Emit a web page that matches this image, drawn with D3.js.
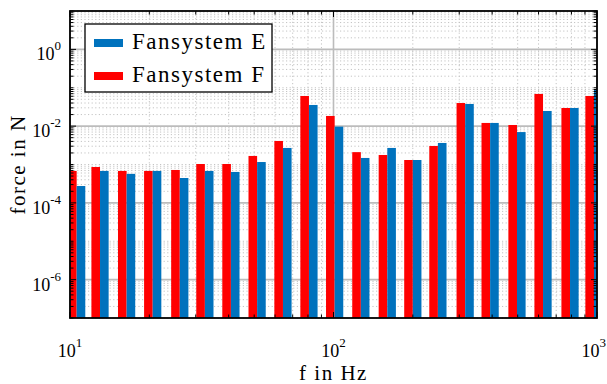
<!DOCTYPE html>
<html>
<head>
<meta charset="utf-8">
<script src="https://cdn.jsdelivr.net/npm/d3@7"></script>
<style>
    body { margin: 0; background: #fff; }
    svg text { font-family: "Liberation Serif", "Times New Roman", serif; fill: #000; }
</style>
</head>
<body>
<div id="chart"></div>
<script>
// band centres as they sit on the axis (Hz)
var bandHz = [10.6, 13.0, 16.4, 20.6, 26.1, 32.5, 40.8, 51.3, 64.3, 80.7, 101,
    127, 160, 200, 249, 316, 393, 497, 624, 790, 974];
// force in N per band
var forceF = [6.8e-4, 8.6e-4, 6.8e-4, 6.8e-4, 7.2e-4, 1.03e-3, 1.03e-3, 1.67e-3, 4.1e-3, 6.1e-2, 1.84e-2,
    2.1e-3, 1.77e-3, 1.31e-3, 3.04e-3, 4.0e-2, 1.21e-2, 1.07e-2, 6.9e-2, 2.97e-2, 6.1e-2];
var forceE = [2.75e-4, 6.8e-4, 5.7e-4, 6.8e-4, 4.45e-4, 6.8e-4, 6.4e-4, 1.16e-3, 2.7e-3, 3.56e-2, 9.7e-3,
    1.48e-3, 2.7e-3, 1.31e-3, 3.64e-3, 3.78e-2, 1.21e-2, 7.0e-3, 2.48e-2, 2.97e-2, 8.75e-2];
var seriesNames = ["Fansystem E", "Fansystem F"];
var xTickExp = [1, 2, 3];
var yTickExp = [0, -2, -4, -6];

(function () {
    var width = 607,
        height = 384;
    var margin = {left: 70, right: 10, top: 11, bottom: 66};
    var red = "#ff0000",
        blue = "#0072bd";
    var barDecades = 0.0327; // width of one bar on the log axis

    var x = d3.scaleLog().domain([10, 1000]).range([margin.left, width - margin.right]);
    var y = d3.scaleLog().domain([1e-7, 10]).range([height - margin.bottom, margin.top]);
    var x0 = x.range()[0], x1 = x.range()[1],
        yb = y.range()[0], yt = y.range()[1];

    var svg = d3.select("#chart")
        .append("svg")
        .attr("width", width)
        .attr("height", height)
        .attr("font-family", "'Liberation Serif', 'Times New Roman', serif");

    svg.append("defs").append("clipPath")
        .attr("id", "plot-clip")
        .append("rect")
        .attr("x", x0).attr("y", yt)
        .attr("width", x1 - x0).attr("height", yb - yt);

    var isMajorY = function (v) {
        return yTickExp.some(function (e) { return Math.abs(Math.log10(v) - e) < 1e-6; });
    };
    var isMajorX = function (v) {
        return xTickExp.some(function (e) { return Math.abs(Math.log10(v) - e) < 1e-6; });
    };

    // grid
    var grid = svg.append("g");
    grid.selectAll(".ygrid")
        .data(y.ticks())
        .enter().append("line")
        .attr("x1", x0).attr("x2", x1)
        .attr("y1", function (d) { return y(d); })
        .attr("y2", function (d) { return y(d); })
        .attr("stroke", function (d) { return isMajorY(d) ? "#bcbcbc" : "#c4c4c4"; })
        .attr("stroke-width", function (d) { return isMajorY(d) ? 1.6 : 1; })
        .attr("stroke-dasharray", function (d) { return isMajorY(d) ? null : "1.2,2.4"; });
    grid.selectAll(".xgrid")
        .data(x.ticks())
        .enter().append("line")
        .attr("y1", yt).attr("y2", yb)
        .attr("x1", function (d) { return x(d); })
        .attr("x2", function (d) { return x(d); })
        .attr("stroke", function (d) { return isMajorX(d) ? "#bcbcbc" : "#c4c4c4"; })
        .attr("stroke-width", function (d) { return isMajorX(d) ? 1.6 : 1; })
        .attr("stroke-dasharray", function (d) { return isMajorX(d) ? null : "1.2,2.4"; });

    // bars, red left of the band centre, blue right of it
    var rows = bandHz.map(function (f, i) {
        return {f: f, F: forceF[i], E: forceE[i]};
    });
    var step = Math.pow(10, barDecades);
    var series = [
        {key: "F", color: red, lo: function (f) { return f / step; }, hi: function (f) { return f; }},
        {key: "E", color: blue, lo: function (f) { return f; }, hi: function (f) { return f * step; }}
    ];
    var bars = svg.append("g").attr("clip-path", "url(#plot-clip)");
    series.forEach(function (s) {
        bars.selectAll(".bar-" + s.key)
            .data(rows)
            .enter().append("rect")
            .attr("class", "bar-" + s.key)
            .attr("x", function (d) { return x(s.lo(d.f)); })
            .attr("width", function (d) { return x(s.hi(d.f)) - x(s.lo(d.f)); })
            .attr("y", function (d) { return y(d[s.key]); })
            .attr("height", function (d) { return yb - y(d[s.key]); })
            .attr("fill", s.color);
    });

    // ticks on all four sides, pointing inwards
    var ticks = svg.append("g").attr("stroke", "#000").attr("stroke-width", 1);
    y.ticks().forEach(function (v) {
        var len = isMajorY(v) ? 6 : 3.5;
        var yy = y(v);
        ticks.append("line").attr("x1", x0).attr("x2", x0 + len).attr("y1", yy).attr("y2", yy);
        ticks.append("line").attr("x1", x1).attr("x2", x1 - len).attr("y1", yy).attr("y2", yy);
    });
    x.ticks().forEach(function (v) {
        var len = isMajorX(v) ? 6 : 3.5;
        var xx = x(v);
        ticks.append("line").attr("y1", yb).attr("y2", yb - len).attr("x1", xx).attr("x2", xx);
        ticks.append("line").attr("y1", yt).attr("y2", yt + len).attr("x1", xx).attr("x2", xx);
    });

    svg.append("rect")
        .attr("x", x0).attr("y", yt)
        .attr("width", x1 - x0).attr("height", yb - yt)
        .attr("fill", "none")
        .attr("stroke", "#000")
        .attr("stroke-width", 1.8);

    // tick labels 10^n
    var xl = svg.append("g").selectAll("text")
        .data(xTickExp)
        .enter().append("text")
        .attr("x", function (e) { return x(Math.pow(10, e)); })
        .attr("y", yb + 39)
        .attr("text-anchor", "middle")
        .style("font-size", "18px");
    xl.append("tspan").text("10");
    xl.append("tspan").attr("dy", -10).style("font-size", "13px").text(function (e) { return e; });
    // keep the last label inside the page
    xl.each(function () {
        var b = this.getBBox();
        if (b.x + b.width > width - 1) {
            d3.select(this).attr("x", +d3.select(this).attr("x") - (b.x + b.width - width + 1));
        }
    });

    var yl = svg.append("g").selectAll("text")
        .data(yTickExp)
        .enter().append("text")
        .attr("x", x0 - 9)
        .attr("y", function (e) { return y(Math.pow(10, e)) + 11; })
        .attr("text-anchor", "end")
        .style("font-size", "18px");
    yl.append("tspan").text("10");
    yl.append("tspan").attr("dy", -10).style("font-size", "13px")
        .text(function (e) { return e < 0 ? "-" + (-e) : e; });

    // axis labels
    svg.append("text")
        .attr("x", (x0 + x1) / 2)
        .attr("y", height - 4)
        .attr("text-anchor", "middle")
        .style("font-size", "21px")
        .style("letter-spacing", "1.5px")
        .text("f in Hz");
    svg.append("text")
        .attr("transform", "translate(25," + ((yt + yb) / 2) + ") rotate(-90)")
        .attr("text-anchor", "middle")
        .style("font-size", "21px")
        .style("letter-spacing", "1.5px")
        .text("force in N");

    // legend
    var legend = svg.append("g").attr("transform", "translate(85,24)");
    legend.append("rect")
        .attr("width", 187).attr("height", 68)
        .attr("fill", "#fff")
        .attr("stroke", "#000")
        .attr("stroke-width", 1.3);
    var items = legend.selectAll(".item")
        .data(seriesNames)
        .enter().append("g")
        .attr("transform", function (d, i) { return "translate(0," + (19 + i * 33) + ")"; });
    items.append("rect")
        .attr("x", 9).attr("y", -4)
        .attr("width", 29).attr("height", 8)
        .attr("fill", function (d, i) { return i === 0 ? blue : red; });
    items.append("text")
        .attr("x", 47).attr("y", 6)
        .style("font-size", "23px")
        .style("letter-spacing", "1.5px")
        .text(function (d) { return d; });
})();
</script>
</body>
</html>
